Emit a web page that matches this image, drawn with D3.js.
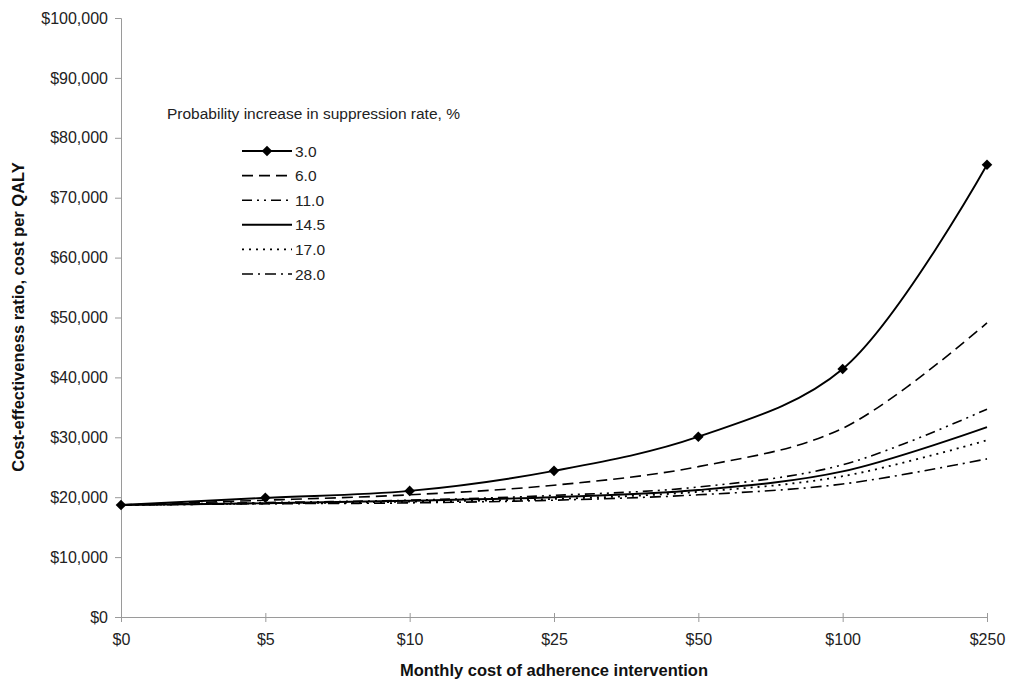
<!DOCTYPE html>
<html><head><meta charset="utf-8">
<script src="https://cdn.jsdelivr.net/npm/d3@7"></script>
<style>body{margin:0;background:#fff;} svg{display:block;font-family:Arial,"Liberation Sans",sans-serif;}</style>
</head><body><svg id="c" width="1013" height="684"></svg>
<script>
const categories = ["$0","$5","$10","$25","$50","$100","$250"];
const seriesNames = ["3.0","6.0","11.0","14.5","17.0","28.0"];
const s3_0  = [18700,19900,21050,24400,30100,41400,75500];
const s6_0  = [18700,19500,20400,22000,25100,31500,49100];
const s11_0 = [18700,19100,19500,20300,21700,25400,34700];
const s14_5 = [18700,19000,19400,20000,21200,24300,31700];
const s17_0 = [18700,18950,19250,19700,20900,23500,29500];
const s28_0 = [18700,18900,19050,19500,20400,22200,26400];
const yTicks = [0,10000,20000,30000,40000,50000,60000,70000,80000,90000,100000];

const seriesValues = [s3_0,s6_0,s11_0,s14_5,s17_0,s28_0];
const styles = [
  {dash:null, w:1.9, marker:true},
  {dash:"11,6", w:1.6},
  {dash:"10,5,2,5,2,5", w:1.6},
  {dash:null, w:1.9},
  {dash:"2,5", w:1.8},
  {dash:"11,5,2,5", w:1.6}
];

const svg = d3.select("#c");
const mLeft = 121, mRight = 987, mTop = 18, mBottom = 617;
const x = d3.scalePoint().domain(categories).range([mLeft,mRight]);
const y = d3.scaleLinear().domain([0,100000]).range([mBottom,mTop]);
const axisColor = "#9a9a9a";
const FONT = "Arial, 'Liberation Sans', sans-serif";

// y axis
const ya = svg.append("g").attr("transform",`translate(${mLeft},0)`)
  .call(d3.axisLeft(y).tickValues(yTicks).tickSize(6).tickPadding(7)
    .tickFormat(d=>"$"+d3.format(",")(d)));
ya.select(".domain").attr("stroke",axisColor);
ya.selectAll(".tick line").attr("stroke",axisColor);
ya.selectAll("text").attr("font-size",16).attr("fill","#222").attr("font-family",FONT);

// x axis
const xa = svg.append("g").attr("transform",`translate(0,${mBottom})`)
  .call(d3.axisBottom(x).tickSizeOuter(0).tickSize(5).tickPadding(12));
xa.select(".domain").attr("stroke",axisColor);
xa.selectAll(".tick line").attr("stroke",axisColor).attr("y1",-4);
xa.selectAll("text").attr("font-size",16).attr("fill","#222").attr("font-family",FONT);

// lines
const line = d3.line().x((d,i)=>x(categories[i])).y(d=>y(d)).curve(d3.curveCatmullRom.alpha(0.5));
seriesValues.forEach((vals,k)=>{
  const st = styles[k];
  svg.append("path").datum(vals).attr("d",line).attr("fill","none")
    .attr("stroke","#000").attr("stroke-width",st.w)
    .attr("stroke-dasharray",st.dash);
});
const diamond = d3.symbol().type(d3.symbolSquare).size(56);
svg.append("g").selectAll("path").data(s3_0).join("path")
  .attr("d",diamond).attr("fill","#000")
  .attr("transform",(d,i)=>`translate(${x(categories[i])},${y(d)}) rotate(45)`);

// legend
svg.append("text").attr("x",167).attr("y",119).attr("font-size",15.5).attr("fill","#222")
  .text("Probability increase in suppression rate, %");
const lg = svg.append("g");
seriesNames.forEach((n,k)=>{
  const yy = 151 + k*24.6;
  const st = styles[k];
  lg.append("line").attr("x1",242).attr("x2",292).attr("y1",yy).attr("y2",yy)
    .attr("stroke","#000").attr("stroke-width",st.w).attr("stroke-dasharray",st.dash);
  if(st.marker) lg.append("path").attr("d",diamond).attr("fill","#000").attr("transform",`translate(267,${yy}) rotate(45)`);
  lg.append("text").attr("x",295).attr("y",yy+5.5).attr("font-size",15.5).attr("fill","#222").text(n);
});

// axis titles
svg.append("text").attr("transform","translate(24,317) rotate(-90)").attr("text-anchor","middle")
  .attr("font-size",16.5).attr("font-weight","bold").attr("fill","#111")
  .text("Cost-effectiveness ratio, cost per QALY");
svg.append("text").attr("x",554).attr("y",676).attr("text-anchor","middle")
  .attr("font-size",16.5).attr("font-weight","bold").attr("fill","#111")
  .text("Monthly cost of adherence intervention");
</script></body></html>
